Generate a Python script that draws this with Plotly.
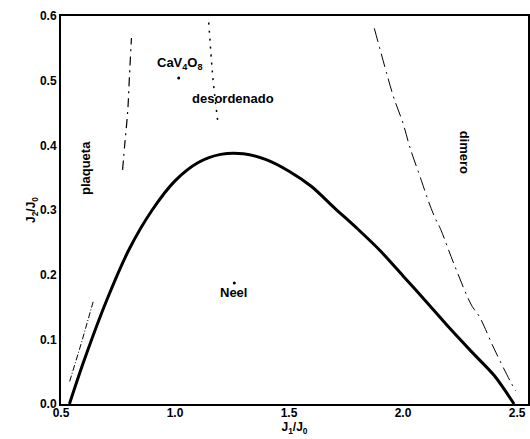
import plotly.graph_objects as go

# Solid boundary (Neel phase)
neel_x = [0.537, 0.60, 0.70, 0.80, 0.90, 1.00, 1.10, 1.20, 1.30, 1.40, 1.50, 1.60, 1.70, 1.80, 1.90, 2.00, 2.10, 2.20, 2.30, 2.40, 2.487]
neel_y = [0.0, 0.066, 0.160, 0.240, 0.300, 0.345, 0.373, 0.386, 0.387, 0.378, 0.360, 0.336, 0.303, 0.271, 0.237, 0.198, 0.159, 0.119, 0.081, 0.044, 0.0]

# Lower-left dash-dot line
ll_x = [0.538, 0.59, 0.641]
ll_y = [0.035, 0.095, 0.158]

# Upper-left dash-dot line (plaqueta boundary)
ul_x = [0.77, 0.78, 0.793, 0.80, 0.809]
ul_y = [0.362, 0.403, 0.455, 0.506, 0.566]

# Middle dotted line
mid_x = [1.148, 1.16, 1.17, 1.19]
mid_y = [0.59, 0.53, 0.49, 0.43]

# Right dash-dot line (dimero boundary)
rt_x = [1.874, 1.93, 1.96, 2.0, 2.03, 2.08, 2.11, 2.14, 2.165, 2.225, 2.30, 2.335, 2.40, 2.472, 2.495]
rt_y = [0.581, 0.509, 0.473, 0.434, 0.397, 0.346, 0.315, 0.288, 0.27, 0.215, 0.153, 0.135, 0.085, 0.034, 0.02]

# Points
pt_x = [1.016, 1.26]
pt_y = [0.504, 0.187]

x_ticks = [0.5, 1.0, 1.5, 2.0, 2.5]
x_labels = ["0.5", "1.0", "1.5", "2.0", "2.5"]
y_ticks = [0.0, 0.1, 0.2, 0.3, 0.4, 0.5, 0.6]
y_labels = ["0.0", "0.1", "0.2", "0.3", "0.4", "0.5", "0.6"]

FONT = "Liberation Sans, Arial, sans-serif"

fig = go.Figure()
fig.add_trace(go.Scatter(x=neel_x, y=neel_y, mode="lines", line=dict(color="black", width=3, shape="spline", smoothing=0.8), hoverinfo="skip"))
fig.add_trace(go.Scatter(x=ll_x, y=ll_y, mode="lines", line=dict(color="black", width=1, dash="6px,2px,1px,2px"), hoverinfo="skip"))
fig.add_trace(go.Scatter(x=ul_x, y=ul_y, mode="lines", line=dict(color="black", width=1.2, dash="9px,5px,2px,5px", shape="spline"), hoverinfo="skip"))
fig.add_trace(go.Scatter(x=mid_x, y=mid_y, mode="lines", line=dict(color="black", width=1.5, dash="2px,6px", shape="spline"), hoverinfo="skip"))
fig.add_trace(go.Scatter(x=rt_x, y=rt_y, mode="lines", line=dict(color="black", width=1, dash="14px,5px,2px,5px", shape="spline"), hoverinfo="skip"))
fig.add_trace(go.Scatter(x=pt_x, y=pt_y, mode="markers", marker=dict(color="black", size=3), hoverinfo="skip"))

annots = [
    dict(x=1.02, y=0.527, text="<b>CaV<sub>4</sub>O<sub>8</sub></b>", textangle=0),
    dict(x=1.253, y=0.473, text="<b>desordenado</b>", textangle=0),
    dict(x=1.257, y=0.173, text="<b>Neel</b>", textangle=0),
    dict(x=0.61, y=0.365, text="<b>plaqueta</b>", textangle=-90),
    dict(x=2.268, y=0.39, text="<b>dimero</b>", textangle=90),
]
for a in annots:
    fig.add_annotation(x=a["x"], y=a["y"], text=a["text"], textangle=a["textangle"],
                       showarrow=False, xanchor="center", yanchor="middle",
                       font=dict(family=FONT, size=13, color="black"))

axis_common = dict(showgrid=False, zeroline=False, showline=True, linecolor="black",
                   linewidth=2, mirror=True, ticks="", automargin=False,
                   tickfont=dict(family=FONT, size=12, color="black", weight="bold"))

fig.update_layout(
    width=530, height=439,
    margin=dict(l=61, r=2, t=16, b=35),
    paper_bgcolor="white", plot_bgcolor="white",
    showlegend=False,
    xaxis=dict(range=[0.5, 2.548], tickvals=x_ticks, ticktext=x_labels,
               title=dict(text="<b>J<sub>1</sub>/J<sub>0</sub></b>", font=dict(family=FONT, size=12, color="black"), standoff=0),
               ticklabelstandoff=-3, ticklabeloverflow="allow", **axis_common),
    yaxis=dict(range=[0, 0.6], tickvals=y_ticks, ticktext=y_labels,
               title=dict(text="<b>J<sub>2</sub>/J<sub>0</sub></b>", font=dict(family=FONT, size=12, color="black"), standoff=0),
               ticklabeloverflow="allow", **axis_common),
)

fig.write_html("out.html", config={"displayModeBar": False},
               post_script="document.body.style.margin='0px';document.body.style.overflow='hidden';")
